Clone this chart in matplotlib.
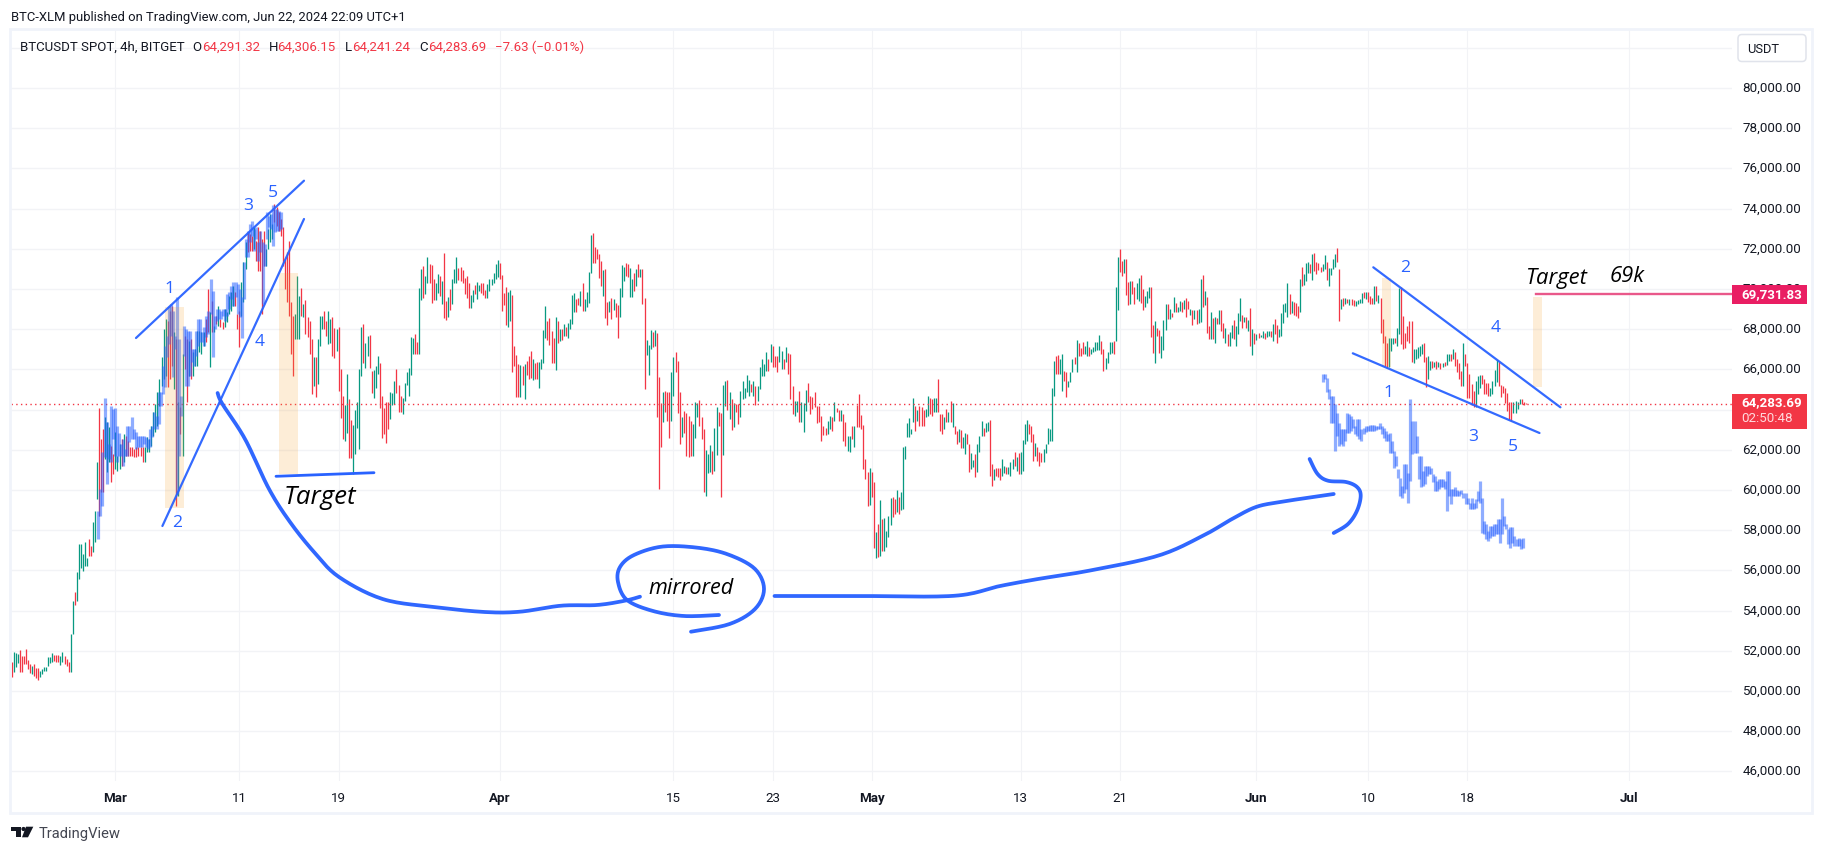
import numpy as np
import matplotlib
matplotlib.use("Agg")
import matplotlib.pyplot as plt
from matplotlib.patches import Rectangle, FancyBboxPatch, Polygon
from matplotlib.transforms import ScaledTranslation

# ---------- candles: each pair is (open side, close side) in thousands of USDT, wicks included
seg_feb = [(51.42,50.68),(50.93,51.92),(51.17,51.89),(51.39,51.84),(52.05,50.96),(51.72,50.96),(51.72,51.34),(52.09,51.34),(51.54,51.09),(51.34,50.89),
(50.84,51.26),(51.34,50.73),(51.12,50.63),(51.12,50.56),(50.68,51.0),(50.84,51.09),(51.0,51.21),(51.0,51.17),(51.26,51.67),(51.39,51.7),
(51.42,51.89),(51.79,51.5),(51.79,51.46),(51.79,51.42),(51.29,51.72),(51.42,51.92),(51.75,51.34),(51.59,51.26),(51.42,50.93),(50.93,52.83),
(52.83,54.49),(54.9,54.28),(54.49,55.9),(55.57,57.31),(56.1,57.31),(55.98,56.81),(56.23,57.39),(56.2,56.6),(57.56,56.73),(57.2,56.7),
(56.9,58.39),(57.39,58.97),(59.55,61.37),(64.06,58.72),(62.53,59.88),(63.03,59.88),(61.54,63.61),(60.87,63.36),(61.37,63.11),(62.2,60.37),(61.78,60.79)]
seg_mar1 = [(61.04,62.86),(60.96,61.7),(61.04,62.28),(62.53,61.2),(61.37,62.78),(62.66,61.7),(62.45,61.7),(62.12,61.7),(62.12,61.7),(62.03,61.62),
(62.12,61.62),(62.12,61.7),(62.12,61.7),(62.12,61.37),(61.37,62.12),(61.87,62.61),(61.87,62.53),(62.2,63.19),(62.7,63.86),(62.86,64.27),
(63.19,64.85),(64.19,65.52),(65.18,66.59),(65.52,68.0),(65.68,68.5),(68.42,65.1),(68.92,65.52),(69.16,66.18),(65.0,67.84),(67.5,59.21),
(59.71,64.35),(64.1,62.78),(61.7,66.76),(67.67,66.01),(67.5,64.35),(65.68,67.42),(67.5,65.5),(65.68,66.84),(66.18,67.0),(66.18,67.92),
(66.84,67.92),(66.76,67.84),(67.17,67.84),(68.5,67.34),(70.0,67.84),(66.1,68.83),(69.41,67.84),(67.84,68.17),(68.67,68.25),(68.17,69.16),
(68.5,68.09),(68.37,68.0),(68.09,69.0),(68.34,68.83),(68.75,69.66),(68.92,69.83),(69.16,70.16),(69.83,69.16),(68.75,68.0)]
seg_mar11 = [(68.92,67.09),(68.67,70.32),(69.33,71.32),(70.99,72.32),(72.81,71.82),(72.73,71.9),(72.65,71.9),(71.98,73.06),(72.4,71.4),(73.06,70.9),
(72.9,70.9),(72.48,68.75),(72.9,71.15),(71.15,71.98),(71.98,72.98),(72.32,73.72),(72.48,73.23),(74.22,73.31),(74.06,73.14),(73.81,72.9),
(73.48,72.65),(73.06,71.15),(71.49,70.0),(71.82,69.33),(72.4,68.67),(69.33,66.76),(68.67,65.65),(67.51,68.75),(67.51,70.62),(67.51,69.66),
(70.03,68.67),(68.58,69.25),(69.46,67.75),(68.58,67.59),(68.42,66.76),(67.5,64.77),(65.18,66.59),(66.59,64.6),(65.27,67.5),(67.17,68.67),
(68.0,68.67),(68.92,68.0),(68.42,67.67),(67.26,68.92),(67.32,68.48),(68.62,66.66),(68.07,66.54),(66.91,67.99)]
seg_mar19 = [(68.1,64.92),(66,63.59),(64.67,62.51),(62.43,64.2),(62.85,65.75),(64.5,61.6),(63.46,61.6),(60.77,63.21),(61.77,63.97),(63.06,64.39),
(62.02,66),(65.66,68.1),(68.24,66.33),(66.08,67.32),(66.66,67.66),(67.69,66.08),(65.91,64.84),(64.55,65.96),(65.08,66.16),(65.75,66.66),
(66.33,64.06),(64.67,62.6),(64.09,62.76),(64.39,62.32),(64.36,63.01),(63.51,64.87),(64.2,64.84),(64.26,65.42),(66,64.8),(65.22,63.89),
(64.67,63.89),(63.76,64.55),(64.42,65.33),(65.22,65.88),(64.67,66.05),(65.7,67.62),(66.74,67.54),(67.74,66.74),(67.36,66.74),(66.74,70.03),
(69.43,71),(71.14,69.56),(69.73,70.64),(70.28,71.59),(71.22,70.31),(71.17,69.28),(70.51,69.43),(69.43,70.31),(69.81,70.72),(70.64,69.65),
(69.23,70.39),(71.77,68.57),(69.4,68.43),(68.6,69.61),(69.98,68.93),(69.23,70.47),(70.28,70.97),(70.31,71.59),(71.05,70.42),(71.1,70.39),
(70.94,70.31),(70.56,69.73),(70.64,69.56),(70.31,69.03),(69.06,69.68),(69.35,69.94),(70.18,69.73),(69.51,70.34),(69.89,70.19),(70.28,69.81),
(70.28,69.68),(69.94,69.53),(69.53,70.23),(69.89,70.47),(70.19,70.47),(70.31,70.77),(70.47,71.25),(70.61,71.42)]
seg_apr1 = [(71.3,70.51),(70.67,68.9),(69.78,69.18),(70.08,68.19),(68.1,69.84),(68.4,69.93),(69.68,65.86),(67.16,66.16),(66.69,64.62),(66.25,64.62),
(64.62,66.2),(66.16,65.22),(64.5,66.25),(66.41,65.7),(66.66,65.53),(66.91,65.58),(65.45,66.5),(66.33,65.5),(66.36,65.5),(65.05,66.38),
(66,66.5),(66.33,67.94),(67.54,69.15),(68.4,67.46),(68.57,67.2),(67.92,66.33),(67.57,66.33),(65.96,68.6),(68.4,67.32),(67.4,67.99),
(67.99,67.46),(67.66,68.24),(68.1,67.66),(67.54,68.3),(68.02,68.48),(68.24,69.68),(68.85,69.78),(69.51,68.85),(69.56,69.18),(69.15,69.89),
(70.31,68.9),(68.9,69.51),(69.11,69.84),(69.31,70.84),(70.8,72.66),(72.8,71.3),(72.1,71.3),(72,71.47),(71.75,70.54),(71.38,70.15),
(69.65,70.94),(70.97,68.57),(69.35,68.2),(68.87,69.4),(69.56,68.48),(68.95,69.51),(69.31,68.6),(69.18,67.54),(68.6,70.06),(69.6,71.17),
(70.39,71.1),(71.3,70.64),(71.25,70.57),(69.6,71.05),(69.6,70.5),(70.77,69.9),(70.14,70.97),(71.22,70.61),(70.61,70.97),(70.97,69.23),
(69.56,65),(66.7,67.46),(65.7,67.2),(67.01,67.95),(67.87,67.09),(67.17,67.95),(67.8,63.61),(65.63,60.04),(64.32,62.12),(63.36,64.89),
(64.94,63.86),(64.85,63.44),(64.89,62.58),(63.44,65.88)]
seg_apr15 = [(64.69,66.63),(66.84,65.85),(66.4,63.82),(64.85,62.28),(62.61,63.61),(63.91,62.83),(63.82,61.7),(63.69,61.62),(63.44,61.7),(61.7,63.28),
(62.56,64.35),(63.61,64.32),(64.49,63.19),(63.61,62.53),(63.03,59.88),(59.71,62),(60.82,61.78),(60.91,62.23),(61.95,60.79),(60.95,63.08),
(61.73,64.11),(63.86,63.19),(63.82,59.63),(61.73,65.22),(64.19,65.4),(65.47,63.99),(63.53,64.85),(64.52,62.99),(63.11,64.31),(64.27,63.86),
(64.27,63.28),(63.61,64.94),(64.52,65.43),(64.57,65.07),(64.85,65.71),(64.65,65.47),(65.27,64.85),(64.69,65.43),(65.18,64.22),(64.44,65.18),
(65.02,66.13),(65.68,66.51),(65.68,66.26),(65.93,66.84),(66.51,65.93),(66.35,67.26)]
seg_apr23 = [(67.17,66.1),(66.68,66.1),(66.68,65.85),(66.35,67.14),(66.01,66.93),(66.51,66.01),(66.35,67.09),(66.81,65.76),(66.76,64.52),(65.18,63.77),
(63.69,64.44),(63.86,64.44),(64.94,63.36),(63.36,64.35),(62.86,64.32),(63.94,64.97),(65.32,64.35),(64.69,63.77),(64.6,64.02),(64.85,64.11),
(64.19,63.33),(64.16,63.36),(63.69,62.45),(63.19,62.73),(63.06,62.73),(62.78,63.44),(63.03,63.66),(63.61,62.95),(63.44,64.35),(64.06,63.86),
(63.99,63.44),(63.44,63.99),(63.77,62.45),(63.36,62.2),(61.95,62.7),(61.87,62.7),(63.19,62.53),(62.12,63.19),(64.22,63.11),(64.77,63.14),
(63.72,63.03),(63.23,61.04),(61.54,60.54),(60.87,59.21),(59.25,61.09)]
seg_may1 = [(60.87,59.63),(60.37,57.11),(56.59,57.92),(58.3,56.68),(56.73,59.5),(58.55,56.98),(56.98,58.6),(57.14,57.97),(57.64,58.72),(58.25,59.6),
(59.63,58.63),(59.55,58.8),(58.92,60),(59.66,58.8),(59,59.91),(59.05,62.15),(61.54,62.2),(62.61,63.33),(62.61,63.58),(62.78,63.03),
(63.39,64.57),(64.16,62.95),(63.44,63.99),(64.19,63.19),(64.11,63.19),(63.97,63.19),(63.61,64.02),(63.69,64.69),(64.55,63.77),(64.52,63.69),
(63.86,64.55),(63.86,64.57),(65.52,63.86),(63.77,62.95),(63.77,62.78),(63.03,63.61),(64.02,63.36),(63.36,63.86),(64.44,63.36),(63.11,64.32),
(63.19,62.78),(62.95,62.28),(62.36,63.03),(63,62.07),(62.08,62.61),(61.78,62.83),(62.78,62.28),(62.28,60.87),(61.04,61.83),(61.12,61.5),
(61.78,60.66),(60.91,62.28),(61.87,62.7),(62.7,63.44),(63.06,62.66),(62.86,63.33),(62.95,63.36),(63.48,60.71),(61.29,60.21),(60.49,61.04),
(61.09,60.71),(61.07,60.66),(61.07,60.49),(60.71,61.54),(60.84,61.2),(61.12,60.79),(60.79,61.12),(60.71,61.37),(61.04,61.54),(61.9,61.2),
(60.95,61.62),(61.83,60.79)]
seg_may13 = [(60.79,61.87),(60.95,62.5),(62.28,63.28),(62.45,63.49),(63.28,62.78),(63.19,62.36),(62.78,61.45),(61.7,62.31),(62.12,61.45),(61.87,61.17),
(61.83,61.37),(61.37,62.03),(61.83,62.28),(62.28,63.06),(62.45,63.03),(62.45,65.07),(64.69,66.43),(66.68,65.76),(66.73,65.76),(65.76,66.51),
(64.94,66.76),(65.93,65.43),(65.88,64.6),(65.1,65.43),(65.38,65.88),(65.85,66.51),(66.59,66.26),(65.85,67.46),(67.31,66.68),(67.06,66.68),
(67.34,66.76),(66.76,67.17),(66.68,67.39),(67.09,66.68),(66.76,67.01),(66.84,67.09),(66.93,67.34),(66.98,67.34),(66.98,67.7),(67.42,66.76),
(67.01,65.93),(66.01,66.54),(66.31,66.84),(66.76,67.34),(66.81,67.37),(67.42,66.76),(67.42,70.09),(68.95,71.57)]
seg_may21 = [(71.97,70.84),(71.39,70.64),(70.81,71.47),(71.47,69.69),(70.34,69.18),(69.23,70.39),(70.39,69.73),(70.09,69.23),(69.48,70.31),(69.4,70.56),
(70.67,69.28),(69.98,68.93),(69.11,69.65),(69.28,69.89),(69.55,70.11),(70.09,67.62),(68.19,66.79),(66.33,68.4),(68.04,67.66),(67.94,66.79),
(66.58,67.66),(66.96,68.45),(67.94,69.23),(69.23,68.52),(68.48,68.98),(68.82,68.62),(68.87,69.58),(69.28,68.87),(68.87,69.11),(68.9,69.38),
(69.35,68.85),(68.98,69.43),(69.56,68.62),(69.4,68.98),(68.68,68.98),(68.95,68.19),(68.48,68.93),(68.93,68.27),(68.32,68.98),(68.37,70.51),
(70.67,69.1),(69.18,69.88),(69.58,67.79),(68.15,67.49),(67.49,68.87),(68.57,67.52),(67.29,68.6),(68.57,68.24),(68.27,68.93),(68.93,67.9),
(68.29,67.57),(67.29,68.07),(67.74,67.16),(67.16,67.85),(67.57,68.19),(68.43,67.52),(67.16,68.15),(67.74,68.82),(68.4,69.53),(68.68,68.04),
(68.35,68.62),(68.62,68.04),(67.9,68.43),(69.03,67.16),(66.69,67.99),(67.79,67.24)]
seg_jun1 = [(67.46,67.74),(67.79,67.57),(67.59,67.72),(67.57,67.9),(67.82,67.52),(67.62,67.89),(67.66,67.9),(67.9,67.62),(67.41,68.24),(68.48,67.74),
(68.19,67.29),(67.62,67.99),(67.66,68.78),(68.29,69.23),(68.85,69.31),(68.62,70.28),(69.73,68.77),(68.82,69.4),(69.36,68.68),(69.28,68.65),
(69.15,68.57),(68.85,70.47),(71.09,70.14),(70.19,70.72),(70.39,71.3),(70.77,71.35),(71.25,70.81),(70.42,71.72),(71.77,70.89),(71.35,70.72),
(71.3,70.94),(71.1,70.84),(70.89,71.22),(71.0,71.67),(71.35,70.44),(70.14,71.05),(70.67,71.02),(70.97,71.47),(71.1,71.72),(72.02,71.34),
(71.0,68.4),(69.02,69.52),(69.57,69.15),(69.24,69.57),(69.52,69.32),(69.19,69.49),(69.49,69.19),(69.44,69.15),(69.15,69.4),(69.24,69.44),
(69.32,69.49),(69.29,69.82),(69.85,69.57),(69.49,69.85)]
seg_jun10 = [(69.85,69.35),(69.65,69.24),(69.57,69.24),(69.24,70.15),(70.15,69.4),(69.32,69.68),(69.57,67.83),(68.49,67.33),(67.66,66.17),(67.3,66.04),
(66.09,67.58),(66.92,67.58),(67.25,67.58),(67.58,67.33),(67.16,68.03),(67.74,70.02),(70.07,67.25),(68.66,67.03),(67.83,67.08),(68.16,67.41),
(68.41,67.33),(68.41,66.37),(66.3,67.03),(66.5,67.03),(66.58,67.13),(66.67,67.16),(66.75,67.25),(67.33,66.34),(66.63,65.14),(65.54,66.67),
(65.97,66.42),(66.42,66.04),(66.09,66.37),(66.42,66.0),(66.09,66.34),(66.3,66.0),(66.09,66.3),(66.37,66.14),(66.2,66.75),(66.42,66.78),
(66.75,66.42),(66.53,67),(66.87,66.17),(66.5,65.87),(66.3,65.54),(65.92,65.17),(65.17,67.3),(66.75,66.17)]
seg_jun18 = [(66.33,64.59),(65.75,64.59),(65.26,64.21),(64.93,64.1),(64.1,65.42),(64.76,65.67),(65.09,65.7),(65.7,65.26),(65.5,64.76),(65.31,64.76),
(65.31,64.68),(64.68,65.09),(64.76,65.42),(65.17,65.97),(65.37,66.47),(66.37,65.17),(65.21,64.64),(65.17,64.81),(65.09,64.31),(64.81,63.93),
(64.35,63.48),(64.38,63.43),(63.81,64.35),(63.85,64.43),(64.01,64.35),(64.26,64.54),(64.54,64.26),(64.38,64.23),(64.34,64.28)]
candle_segments = [seg_feb, seg_mar1, seg_mar11, seg_mar19, seg_apr1, seg_apr15, seg_apr23, seg_may1, seg_may13, seg_may21, seg_jun1, seg_jun10, seg_jun18]
segment_edges = [-8.35, 0, 10, 18, 31, 45, 53, 61, 73, 81, 92, 101, 109, 113.9]   # days since 1 Mar

# ---------- translucent "bars pattern" copies (low, high), thousands of USDT
ghost_left = [(57.56,58.97),(58.72,60.04),(59.21,61.87),(61.62,64.57),(60.29,63.36),(61.54,62.28),(61.37,64.19),(62.53,64.02),(61.7,64.06),(61.37,63.19),
(61.7,62.81),(61.7,62.28),(61.2,62.53),(61.7,62.03),(61.7,63.19),(62.36,63.19),(62.53,63.61),(62.53,63.03),(62.03,62.86),(62.12,62.7),
(62.12,62.7),(62.12,62.7),(62.28,62.7),(62.12,62.61),(62.03,62.53),(62.12,63.03),(62.61,63.19),(63.03,63.86),(63.03,63.69),(63.28,64.85),
(64.19,64.85),(64.77,66.18),(65.1,67.17),(66.59,67.67),(67.26,69.16),(67.67,69.25),(65.6,68.92),(67.01,67.67),(59.79,69.58),(61.7,67.5),
(63.69,64.69),(66.68,68.17),(65.18,68.0),(65.18,67.92),(65.68,67.92),(66.35,67.01),(66.18,67.01),(66.68,67.92),(67.17,68.5),(67.34,68.5),
(67.34,67.84),(67.17,68.09),(67.59,68.67),(67.75,68.92),(68.75,70.49),(66.59,69.91),(68,68.67),(68.42,69),(68.5,69),(68.5,68.92),
(68.67,69),(68.42,69),(68.67,69.74),(69,69.83),(69.5,70.16),(69.16,70.36),(69.58,70.36),(68.75,70.24),(68.58,69.99),(67.56,69.58),
(69.5,71.32),(71.57,72.48),(71.57,72.9),(72.32,73.23),(72.65,73.39),(71.9,72.98),(72.48,73.06),(71.4,72.32),(71.82,72.9),(69.25,72.32),
(71.15,72.23),(72.48,73.81),(73.06,73.64),(72.98,73.72),(72.15,74.17),(72.81,73.97),(72.9,73.97),(72.9,73.89),(72.98,73.81)]
ghost_right = [(65.37,65.75),(65.51,65.75),(64.88,65.59),(64.51,65.01),(63.35,64.68),(63.35,64.68),(61.94,64.26),(62.69,63.85),(62.19,63.35),(62.27,63.02),
(62.19,63.02),(62.44,63.02),(62.85,63.81),(62.85,63.76),(62.94,63.68),(63.1,63.52),(62.77,63.18),(62.69,63.52),(62.52,63.52),(62.44,63.02),
(62.77,63.1),(62.89,63.18),(62.94,63.18),(62.94,63.22),(62.94,63.22),(62.94,63.22),(62.99,63.18),(63.02,63.18),(63.02,63.35),(62.77,63.18),
(62.6,63.1),(62.44,62.94),(62.44,62.77),(61.86,62.85),(61.86,62.44),(61.11,61.94),(61.19,61.69),(60.61,61.03),(59.7,60.61),(59.62,60.2),
(59.87,61.28),(60.03,61.28),(59.37,60.86),(60.45,64.51),(61.77,63.43),(61.86,63.43),(61.86,62.69),(60.53,61.69),(60.12,61.69),(60.2,60.95),
(60.28,61.19),(60.7,61.19),(60.78,61.19),(60.78,61.11),(60.37,60.78),(59.95,60.7),(59.95,60.45),(60.03,60.53),(60.12,60.53),(60.12,60.56),
(60.03,60.45),(58.96,60.95),(59.7,60.95),(59.29,60.03),(59.7,60.03),(59.7,60.12),(59.7,60.0),(59.7,59.95),(59.79,60.0),(59.62,59.87),
(59.29,59.87),(59.29,59.62),(59.04,59.37),(59.04,59.62),(59.04,59.37),(59.12,59.54),(59.45,59.95),(59.37,60.45),(57.88,59.62),(57.79,58.46),
(57.55,58.29),(57.46,57.96),(57.63,58.21),(57.71,58.21),(57.71,58.29),(57.79,58.29),(57.79,58.54),(57.38,58.54),(57.79,59.62),(58.21,58.71),
(58.04,58.29),(57.3,58.04),(57.13,58.13),(57.38,58.13),(57.21,57.71),(57.21,57.55),(57.21,57.63),(57.05,57.55),(57.13,57.63)]
ghost_left_span = (-1.37, 13.38)
ghost_right_span = (97.34, 113.46)

# ---------- axis
price_ticks = list(range(46000, 82000, 2000))
grid_only_ticks = [82000]
hidden_price_labels = {64000}          # covered by the last-price tag in the picture
date_ticks = [0, 10, 18, 31, 45, 53, 61, 73, 81, 92, 101, 109, 122]
date_labels = ["Mar", "11", "19", "Apr", "15", "23", "May", "13", "21", "Jun", "10", "18", "Jul"]
bold_dates = {"Mar", "Apr", "May", "Jun", "Jul"}
last_price = 64283.69
target_price = 69731.83

GREEN, RED, BLUE = "#089981", "#f23645", "#2962ff"
INK, GRID, FRAME = "#131722", "#f2f3f6", "#f0f3fa"
UI = "Roboto"

W, H = 1824, 853
fig = plt.figure(figsize=(W/100, H/100), dpi=100, facecolor="white")
L, R, T, B = 11, 1732, 30, 782
ax = fig.add_axes([L/W, 1-B/H, (R-L)/W, (B-T)/H], facecolor="white")
ax.set_xlim((L-115.3)/12.404, (R-115.3)/12.404)
ax.set_ylim(46000+(772.3-B)/0.0201, 46000+(772.3-T)/0.0201)
for s in ax.spines.values():
    s.set_visible(False)
ax.yaxis.tick_right()
shown_prices = [v for v in price_ticks if v not in hidden_price_labels]
ax.set_yticks(shown_prices, [f"{v:,.2f}" for v in shown_prices], fontfamily=UI, fontsize=9.6, color=INK)
ax.set_xticks(date_ticks, date_labels, fontfamily=UI, fontsize=9.6, color=INK)
for lab in ax.get_xticklabels():
    if lab.get_text() in bold_dates:
        lab.set_fontweight("bold")
ax.tick_params(axis="y", length=0, pad=7.5)
ax.tick_params(axis="x", length=0, pad=7.2)
lift = ScaledTranslation(0, 0.022, fig.dpi_scale_trans)
for lab in ax.get_yticklabels():
    lab.set_transform(lab.get_transform() + lift)
ax.hlines(price_ticks+grid_only_ticks, *ax.get_xlim(), color=GRID, lw=1.0, zorder=0)
ax.vlines(date_ticks, *ax.get_ylim(), color=GRID, lw=0.8, zorder=0)

# candles
xs, lows, highs, cols = [], [], [], []
for seg, a, b in zip(candle_segments, segment_edges[:-1], segment_edges[1:]):
    pos = np.linspace(a, b, len(seg), endpoint=False)
    for p, (o, c) in zip(pos, seg):
        xs.append(p); lows.append(min(o, c)*1000); highs.append(max(o, c)*1000)
        cols.append(GREEN if c >= o else RED)
ax.vlines(xs, lows, highs, colors=cols, lw=0.92, zorder=3, capstyle="butt")

# last price
ax.axhline(last_price, color=RED, lw=1.0, ls=(0, (1, 2.4)), zorder=4)

# ghosts
for ghost, (a, b) in ((ghost_left, ghost_left_span), (ghost_right, ghost_right_span)):
    pos = np.linspace(a, b, len(ghost))
    ax.vlines(pos, [g[0]*1000 for g in ghost], [g[1]*1000 for g in ghost],
              colors="#2962ff", alpha=0.52, lw=2.3, zorder=5, capstyle="butt")

# ---------- overlay in pixel space: chrome and hand drawings
ov = fig.add_axes([0, 0, 1, 1], facecolor="none")
ov.set_xlim(0, W); ov.set_ylim(H, 0); ov.axis("off")

def rect(x0, y0, x1, y1, c, z=2):
    ov.add_patch(Rectangle((x0, y0), x1-x0, y1-y0, fc=c, ec="none", zorder=z))

def smooth(pts, n=14):
    p = np.array(pts, float)
    p = np.vstack([p[0], p, p[-1]])
    out = []
    for i in range(1, len(p)-2):
        for t in np.linspace(0, 1, n, endpoint=False):
            a = 2*p[i]+(p[i+1]-p[i-1])*t+(2*p[i-1]-5*p[i]+4*p[i+1]-p[i+2])*t*t+(-p[i-1]+3*p[i]-3*p[i+1]+p[i+2])*t**3
            out.append(a/2)
    out.append(p[-2])
    return np.array(out)

# frame
ov.add_patch(Rectangle((10.5, 30), 1802, 784, fc="none", ec=FRAME, lw=2, zorder=1))

# sand rectangles
for (x0, y0, x1, y1) in [(165, 308, 184.5, 508.7), (279, 274, 298, 475), (1381.6, 279, 1390.6, 368), (1533.4, 297.7, 1542, 388)]:
    ov.add_patch(Rectangle((x0, y0), x1-x0, y1-y0, fc="#f59d24", alpha=0.18, ec="none", zorder=1))

# straight pattern lines
for (a, b) in [((136, 339), (304, 181.7)), ((162.4, 527), (304, 220)),
               ((1373.3, 268.3), (1560.4, 408.3)), ((1352.8, 354.3), (1539.5, 434))]:
    ov.plot([a[0], b[0]], [a[1], b[1]], color=BLUE, lw=1.6, zorder=6, solid_capstyle="round", alpha=0.95)
ov.plot([276, 374], [477.3, 473.7], color=BLUE, lw=2.0, zorder=6, solid_capstyle="round")
ov.plot([1536, 1732], [294.7, 294.7], color="#e9588a", lw=1.7, zorder=6)

# freehand strokes
strokes = [
    [(217.6, 394), (222.4, 405), (245, 440), (269, 490), (290, 523), (314, 553), (339, 578), (382.6, 600), (433.7, 608),
     (484.7, 613), (520, 612.7), (561, 606.7), (597, 606), (625, 601.7), (640, 597.7)],
    [(691, 632.7), (729.6, 625), (755, 610), (764, 590), (755, 570), (729.6, 556), (700, 549), (663, 547.5), (634, 556),
     (620, 568), (618, 583), (627, 601), (653, 612), (684, 617), (719, 616)],
    [(774.5, 597), (860, 597), (954, 596.8), (1000, 587), (1038, 580), (1089, 571.7), (1158, 556.7), (1203, 536.7),
     (1232, 520), (1256, 508), (1280, 503), (1310, 498.5), (1333.7, 495)],
    [(1309.6, 460), (1317.6, 475), (1328, 481.7), (1346, 483), (1357, 488), (1360.7, 496.7), (1357, 511.7), (1348, 525), (1333.7, 534)],
]
for s in strokes:
    q = smooth(s)
    ov.plot(q[:, 0], q[:, 1], color=BLUE, lw=2.7, zorder=6, solid_capstyle="round", solid_joinstyle="round", alpha=0.97)

# wave numbers
for t, x, y in [("1", 169.4, 289), ("3", 248, 206), ("5", 272.6, 193), ("4", 260, 342), ("2", 177, 523),
                ("2", 1405, 267.7), ("4", 1496, 328), ("1", 1388, 393), ("3", 1473, 437), ("5", 1512.5, 447)]:
    ov.text(x, y, t, color=BLUE, fontsize=12.6, family="Open Sans", ha="center", va="center", zorder=7)

# handwritten words
for t, x, y, fs in [("Target", 320, 497, 18.6), ("mirrored", 691, 589, 15.6), ("Target", 1555.7, 278, 15.8), ("69k", 1627, 276, 15.8)]:
    ov.text(x, y, t, color="black", fontsize=fs, family="Open Sans", style="italic", ha="center", va="center", zorder=7)

# header
ov.text(11, 17.3, "BTC-XLM published on TradingView.com, Jun 22, 2024 22:09 UTC+1", color=INK, fontsize=9.4, family=UI, va="center")
ov.text(20.4, 47, "BTCUSDT SPOT, 4h, BITGET", color=INK, fontsize=9.5, family=UI, va="center")
for letter, lx, val, vx in [("O", 192, "64,291.32", 202), ("H", 268.6, "64,306.15", 277.5), ("L", 345.3, "64,241.24", 351.8), ("C", 419.6, "64,283.69", 427.8)]:
    ov.text(lx, 47, letter, color=INK, fontsize=9.5, family=UI, va="center")
    ov.text(vx, 47, val, color=RED, fontsize=9.5, family=UI, va="center")
ov.text(495.5, 47, "\u22127.63 (\u22120.01%)", color=RED, fontsize=9.5, family=UI, va="center")

# USDT button
ov.add_patch(FancyBboxPatch((1738, 35.5), 68, 27, boxstyle="round,pad=0,rounding_size=4", fc="white", ec="#e0e3eb", lw=1.1, zorder=7))
ov.text(1747, 49.5, "USDT", color=INK, fontsize=9.3, family=UI, va="center", zorder=8)

# price tags
rect(1732, 285.7, 1807, 305, "#e91e63", z=7)
ov.text(1741.5, 295, f"{target_price:,.2f}", color="white", fontsize=9.6, weight="bold", family=UI, va="center", zorder=8)
rect(1732, 395, 1807, 430, RED, z=7)
ov.text(1741.5, 403, f"{last_price:,.2f}", color="white", fontsize=9.6, weight="bold", family=UI, va="center", zorder=8)
ov.text(1741.5, 419, "02:50:48", color="#ffd9dc", fontsize=9.6, family=UI, va="center", zorder=8)

# logo
ov.add_patch(Polygon([(11, 827.7), (21, 827.7), (21, 838.3), (16, 838.3), (16, 832), (11, 832)], fc="#131722", ec="none"))
ov.add_patch(Polygon([(26, 827.7), (33.3, 827.7), (28, 838.3), (22, 838.3)], fc="#131722", ec="none"))
ov.add_patch(plt.Circle((23.5, 830), 2.1, fc="#131722", ec="none"))
ov.text(38.5, 834, "TradingView", color="#434651", fontsize=10.6, family=UI, va="center")

fig.savefig("out.png", dpi=100, facecolor="white")
